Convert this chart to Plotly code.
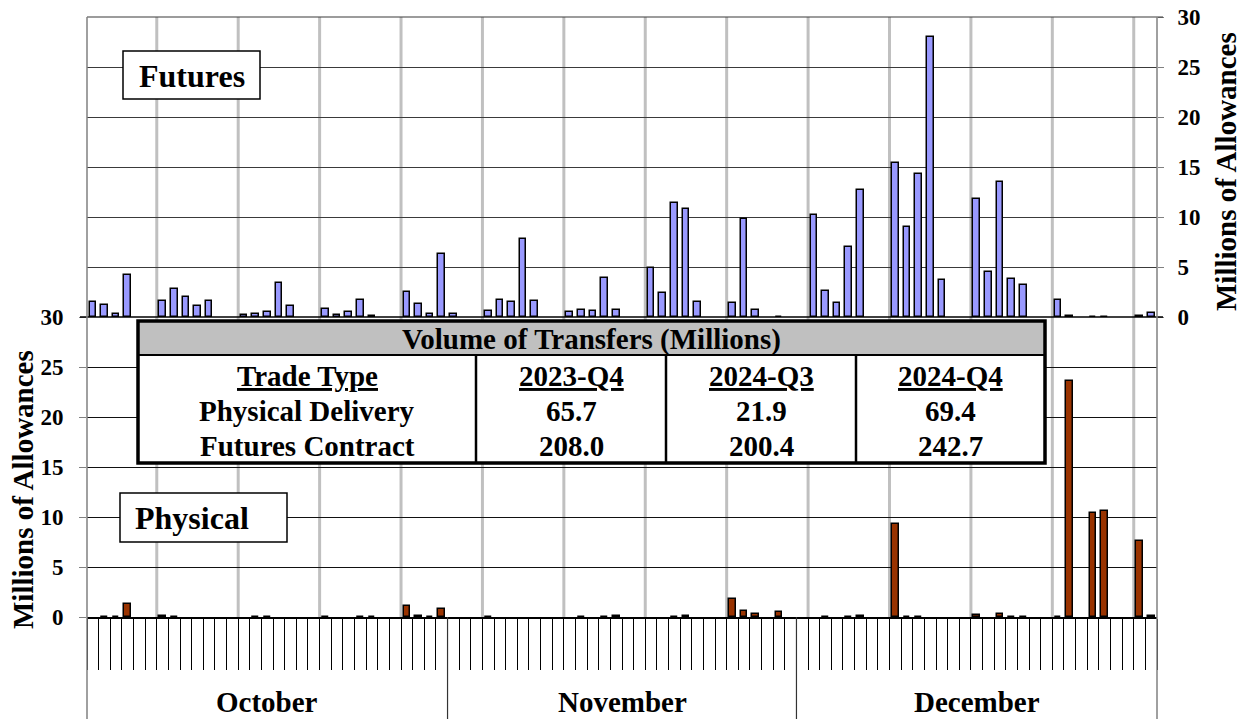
import plotly.graph_objects as go
import pandas as pd

# ---------------- data ----------------
trade_dates = [
    "2024-10-01", "2024-10-02", "2024-10-03", "2024-10-04",
    "2024-10-07", "2024-10-08", "2024-10-09", "2024-10-10", "2024-10-11",
    "2024-10-14", "2024-10-15", "2024-10-16", "2024-10-17", "2024-10-18",
    "2024-10-21", "2024-10-22", "2024-10-23", "2024-10-24", "2024-10-25",
    "2024-10-28", "2024-10-29", "2024-10-30", "2024-10-31", "2024-11-01",
    "2024-11-04", "2024-11-05", "2024-11-06", "2024-11-07", "2024-11-08",
    "2024-11-11", "2024-11-12", "2024-11-13", "2024-11-14", "2024-11-15",
    "2024-11-18", "2024-11-19", "2024-11-20", "2024-11-21", "2024-11-22",
    "2024-11-25", "2024-11-26", "2024-11-27", "2024-11-29",
    "2024-12-02", "2024-12-03", "2024-12-04", "2024-12-05", "2024-12-06",
    "2024-12-09", "2024-12-10", "2024-12-11", "2024-12-12", "2024-12-13",
    "2024-12-16", "2024-12-17", "2024-12-18", "2024-12-19", "2024-12-20",
    "2024-12-23", "2024-12-24", "2024-12-26", "2024-12-27", "2024-12-30", "2024-12-31",
]

futures_volume = [
    1.5, 1.2, 0.33, 4.2,
    1.57, 2.8, 2.03, 1.1, 1.6,
    0.2, 0.27, 0.53, 3.4, 1.13,
    0.8, 0.23, 0.53, 1.67, 0.1,
    2.53, 1.27, 0.33, 6.3, 0.27,
    0.57, 1.73, 1.53, 7.77, 1.63,
    0.47, 0.73, 0.63, 3.93, 0.7,
    4.93, 2.37, 11.43, 10.77, 1.5,
    1.4, 9.8, 0.67, 0.05,
    10.23, 2.6, 1.37, 7.0, 12.67,
    15.4, 9.0, 14.27, 27.97, 3.73,
    11.77, 4.5, 13.5, 3.77, 3.17,
    1.73, 0.15, 0.05, 0.05, 0.1, 0.4,
]

physical_volume = [
    None, 0.05, 0.05, 1.3,
    0.1, 0.05, None, None, None,
    None, 0.05, 0.05, None, None,
    0.05, None, None, 0.05, 0.05,
    1.1, 0.1, 0.05, 0.8, None,
    0.05, None, None, None, None,
    None, 0.05, None, 0.05, 0.08,
    None, None, 0.05, 0.1, None,
    1.83, 0.6, 0.33, 0.5,
    None, 0.05, None, 0.05, 0.08,
    9.27, 0.05, 0.05, None, None,
    0.23, None, 0.33, 0.05, 0.05,
    0.05, 23.63, 10.4, 10.63, 7.6, 0.1,
]

months = ["October", "November", "December"]
month_starts = ["2024-10-01", "2024-11-01", "2024-12-01"]
month_ends = ["2024-10-31", "2024-11-30", "2024-12-31"]

y_ticks = [0, 5, 10, 15, 20, 25, 30]

table_title = "Volume of Transfers (Millions)"
table_header = "Trade Type"
trade_types = ["Physical Delivery", "Futures Contract"]
quarters = ["2023-Q4", "2024-Q3", "2024-Q4"]
physical_totals = [65.7, 21.9, 69.4]
futures_totals = [208.0, 200.4, 242.7]

# ---------------- helpers ----------------
FONT = "Liberation Serif"
L, R, T, B = 87, 1157, 17, 617      # plot area in screen pixels
W, H = 1245, 719
DAY_MS = 86400000


def px(xp):
    return (xp - L) / (R - L)


def py(yp):
    return (B - yp) / (B - T)


half_day = pd.Timedelta(hours=12)
x_start = pd.Timestamp(month_starts[0]) - half_day
x_end = pd.Timestamp(month_ends[-1]) + half_day

fig = go.Figure()

fig.add_trace(go.Bar(
    x=trade_dates, y=futures_volume, xaxis="x", yaxis="y2",
    marker=dict(color="#9999FF", line=dict(color="black", width=1.5)),
    width=0.57 * DAY_MS, name="Futures", showlegend=False,
))
fig.add_trace(go.Bar(
    x=trade_dates, y=physical_volume, xaxis="x", yaxis="y",
    marker=dict(color="#993300", line=dict(color="black", width=1.5)),
    width=0.57 * DAY_MS, name="Physical", showlegend=False,
))

tickfont = dict(family=FONT, size=23, color="black", weight="bold")

fig.update_layout(
    width=W, height=H, autosize=False,
    margin=dict(l=L, r=W - R, t=T, b=H - B, pad=0, autoexpand=False),
    paper_bgcolor="white", plot_bgcolor="white",
    bargap=0,
    xaxis=dict(
        type="date", domain=[0, 1], anchor="y", automargin=False,
        range=[x_start, x_end],
        showgrid=False, zeroline=False,
        showline=True, linecolor="black", linewidth=1.5,
        ticks="outside", ticklen=51, tickwidth=1, tickcolor="black",
        tick0=x_start, dtick=DAY_MS, showticklabels=False,
    ),
    yaxis=dict(
        domain=[0, 0.5], anchor="x", side="left", automargin=False,
        range=[0, 30], tickvals=y_ticks,
        showgrid=True, gridcolor="#111111", gridwidth=1,
        zeroline=False, showline=False,
        ticks="outside", ticklen=7, tickcolor="#808080", tickwidth=1,
        tickfont=tickfont, ticklabelstandoff=11, ticklabeloverflow="allow",
    ),
    yaxis2=dict(
        domain=[0.5, 1], anchor="x", side="right", automargin=False,
        range=[0, 30], tickvals=y_ticks,
        showgrid=True, gridcolor="#3a3a3a", gridwidth=1,
        zeroline=False, showline=False,
        ticks="outside", ticklen=6, tickcolor="#808080", tickwidth=1,
        tickfont=tickfont, ticklabelstandoff=9, ticklabeloverflow="allow",
    ),
)

shapes = []
# weekly vertical grey gridlines
for d in pd.date_range(pd.Timestamp("2024-10-06") + half_day, x_end, freq="7D"):
    shapes.append(dict(type="line", xref="x", yref="paper", x0=d, x1=d, y0=0, y1=1,
                       line=dict(color="#c0c0c0", width=3), layer="below"))
# top border (30 gridline of the futures panel)
shapes.append(dict(type="line", xref="paper", yref="paper", x0=0, x1=px(1163),
                   y0=1, y1=1, line=dict(color="#3a3a3a", width=1.2)))
# panel separator / futures baseline
shapes.append(dict(type="line", xref="paper", yref="paper", x0=px(80), x1=px(1163),
                   y0=0.5, y1=0.5, line=dict(color="black", width=1.5)))
# left and right borders down through the month row
for xx in (0, 1):
    shapes.append(dict(type="line", xref="paper", yref="paper", x0=xx, x1=xx,
                       y0=py(H + 2), y1=1, line=dict(color="#808080", width=1.5)))
# month dividers
for me in month_ends[:-1]:
    d = pd.Timestamp(me) + half_day
    shapes.append(dict(type="line", xref="x", yref="paper", x0=d, x1=d,
                       y0=py(H + 2), y1=0, line=dict(color="#333333", width=1.2)))

# table
tx0, tx1, ty0, ty1, thead = 138, 1045, 321, 463, 355
col_edges = [tx0, 476, 666, 856, tx1]
shapes.append(dict(type="rect", xref="paper", yref="paper", x0=px(tx0), x1=px(tx1),
                   y0=py(thead), y1=py(ty1), fillcolor="white", line=dict(width=0)))
shapes.append(dict(type="rect", xref="paper", yref="paper", x0=px(tx0), x1=px(tx1),
                   y0=py(ty0), y1=py(thead), fillcolor="#c0c0c0", line=dict(width=0)))
shapes.append(dict(type="line", xref="paper", yref="paper", x0=px(tx0), x1=px(tx1),
                   y0=py(thead), y1=py(thead), line=dict(color="black", width=2)))
for ce in col_edges[1:-1]:
    shapes.append(dict(type="line", xref="paper", yref="paper", x0=px(ce), x1=px(ce),
                       y0=py(thead), y1=py(ty1), line=dict(color="black", width=2.5)))
shapes.append(dict(type="rect", xref="paper", yref="paper", x0=px(tx0), x1=px(tx1),
                   y0=py(ty0), y1=py(ty1), line=dict(color="black", width=3.5)))

# label boxes
shapes.append(dict(type="rect", xref="paper", yref="paper", x0=px(123), x1=px(260),
                   y0=py(51), y1=py(99), fillcolor="white", line=dict(color="black", width=1.5)))
shapes.append(dict(type="rect", xref="paper", yref="paper", x0=px(120), x1=px(287),
                   y0=py(493), y1=py(542), fillcolor="white", line=dict(color="black", width=1.5)))

annotations = []


def txt(x, y, text, size, xref="paper", angle=0):
    annotations.append(dict(x=x, y=y, xref=xref, yref="paper", text=text, showarrow=False,
                            xanchor="center", yanchor="middle", textangle=angle,
                            font=dict(family=FONT, size=size, color="black", weight="bold")))


# panel labels
txt(px(191.5), py(76), "Futures", 32)
txt(px(191.5), py(518), "Physical", 32)

# axis titles
txt(px(23), py(490), "Millions of Allowances", 29, angle=-90)
txt(px(1226), py(172), "Millions of Allowances", 29, angle=-90)

# month labels
for m, s, e in zip(months, month_starts, month_ends):
    mid = pd.Timestamp(s) - half_day + (pd.Timestamp(e) - pd.Timestamp(s) + 2 * half_day) / 2
    txt(mid, py(702), m, 29, xref="x")

# table text
txt(px((tx0 + tx1) / 2), py(339), table_title, 29)
row_y = [376, 411, 446]
txt(px((col_edges[0] + col_edges[1]) / 2), py(row_y[0]), "<u>" + table_header + "</u>", 29)
for i, tt in enumerate(trade_types):
    txt(px((col_edges[0] + col_edges[1]) / 2), py(row_y[i + 1]), tt, 29)
for j, q in enumerate(quarters):
    cx = px((col_edges[j + 1] + col_edges[j + 2]) / 2)
    txt(cx, py(row_y[0]), "<u>" + q + "</u>", 29)
    txt(cx, py(row_y[1]), f"{physical_totals[j]:.1f}", 29)
    txt(cx, py(row_y[2]), f"{futures_totals[j]:.1f}", 29)

fig.update_layout(shapes=shapes, annotations=annotations)

fig.write_html(
    "out.html",
    config={"displayModeBar": False},
    post_script="document.body.style.margin='0';document.body.style.overflow='hidden';",
)
